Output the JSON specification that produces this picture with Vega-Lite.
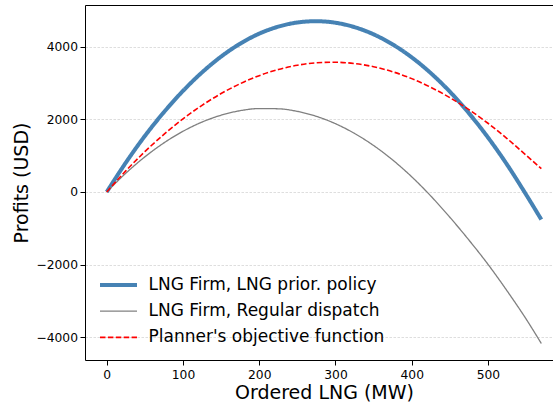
{
  "$schema": "https://vega.github.io/schema/vega-lite/v6.json",
  "width": 468,
  "height": 355,
  "autosize": {"type": "none"},
  "padding": {"left": 85, "top": 5, "right": 0, "bottom": 49},
  "background": "white",
  "config": {
    "view": {"stroke": null},
    "font": "DejaVu Sans",
    "axis": {
      "domainColor": "black",
      "domainWidth": 1,
      "tickColor": "black",
      "tickWidth": 1,
      "labelColor": "black",
      "titleColor": "black",
      "titleFontWeight": "normal",
      "labelFont": "DejaVu Sans",
      "titleFont": "DejaVu Sans"
    },
    "legend": {
      "orient": "none",
      "legendX": 22,
      "legendY": 268.5,
      "labelFontSize": 17,
      "labelFont": "DejaVu Sans",
      "labelColor": "black",
      "symbolType": "M-2,0H2",
      "symbolSize": 342,
      "rowPadding": 7.7,
      "labelOffset": 18.5,
      "padding": 0,
      "labelLimit": 400
    }
  },
  "data": {
    "values": [
      {"s": "LNG Firm, LNG prior. policy", "x": 0, "y": 0},
      {"s": "LNG Firm, LNG prior. policy", "x": 25, "y": 805},
      {"s": "LNG Firm, LNG prior. policy", "x": 50, "y": 1540},
      {"s": "LNG Firm, LNG prior. policy", "x": 75, "y": 2195},
      {"s": "LNG Firm, LNG prior. policy", "x": 100, "y": 2780},
      {"s": "LNG Firm, LNG prior. policy", "x": 125, "y": 3290},
      {"s": "LNG Firm, LNG prior. policy", "x": 150, "y": 3725},
      {"s": "LNG Firm, LNG prior. policy", "x": 175, "y": 4080},
      {"s": "LNG Firm, LNG prior. policy", "x": 200, "y": 4356},
      {"s": "LNG Firm, LNG prior. policy", "x": 225, "y": 4548},
      {"s": "LNG Firm, LNG prior. policy", "x": 250, "y": 4663},
      {"s": "LNG Firm, LNG prior. policy", "x": 275, "y": 4698},
      {"s": "LNG Firm, LNG prior. policy", "x": 300, "y": 4656},
      {"s": "LNG Firm, LNG prior. policy", "x": 325, "y": 4535},
      {"s": "LNG Firm, LNG prior. policy", "x": 350, "y": 4337},
      {"s": "LNG Firm, LNG prior. policy", "x": 375, "y": 4059},
      {"s": "LNG Firm, LNG prior. policy", "x": 400, "y": 3704},
      {"s": "LNG Firm, LNG prior. policy", "x": 425, "y": 3270},
      {"s": "LNG Firm, LNG prior. policy", "x": 450, "y": 2759},
      {"s": "LNG Firm, LNG prior. policy", "x": 475, "y": 2168},
      {"s": "LNG Firm, LNG prior. policy", "x": 500, "y": 1500},
      {"s": "LNG Firm, LNG prior. policy", "x": 525, "y": 754},
      {"s": "LNG Firm, LNG prior. policy", "x": 550, "y": -72},
      {"s": "LNG Firm, LNG prior. policy", "x": 570, "y": -760},
      {"s": "LNG Firm, Regular dispatch", "x": 0, "y": 0},
      {"s": "LNG Firm, Regular dispatch", "x": 25, "y": 515},
      {"s": "LNG Firm, Regular dispatch", "x": 50, "y": 965},
      {"s": "LNG Firm, Regular dispatch", "x": 75, "y": 1350},
      {"s": "LNG Firm, Regular dispatch", "x": 100, "y": 1669},
      {"s": "LNG Firm, Regular dispatch", "x": 125, "y": 1923},
      {"s": "LNG Firm, Regular dispatch", "x": 150, "y": 2112},
      {"s": "LNG Firm, Regular dispatch", "x": 175, "y": 2236},
      {"s": "LNG Firm, Regular dispatch", "x": 200, "y": 2295},
      {"s": "LNG Firm, Regular dispatch", "x": 225, "y": 2288},
      {"s": "LNG Firm, Regular dispatch", "x": 250, "y": 2217},
      {"s": "LNG Firm, Regular dispatch", "x": 275, "y": 2080},
      {"s": "LNG Firm, Regular dispatch", "x": 300, "y": 1878},
      {"s": "LNG Firm, Regular dispatch", "x": 325, "y": 1610},
      {"s": "LNG Firm, Regular dispatch", "x": 350, "y": 1278},
      {"s": "LNG Firm, Regular dispatch", "x": 375, "y": 880},
      {"s": "LNG Firm, Regular dispatch", "x": 400, "y": 417},
      {"s": "LNG Firm, Regular dispatch", "x": 425, "y": -111},
      {"s": "LNG Firm, Regular dispatch", "x": 450, "y": -696},
      {"s": "LNG Firm, Regular dispatch", "x": 475, "y": -1323},
      {"s": "LNG Firm, Regular dispatch", "x": 500, "y": -1990},
      {"s": "LNG Firm, Regular dispatch", "x": 525, "y": -2720},
      {"s": "LNG Firm, Regular dispatch", "x": 550, "y": -3495},
      {"s": "LNG Firm, Regular dispatch", "x": 570, "y": -4170},
      {"s": "Planner's objective function", "x": 0, "y": 0},
      {"s": "Planner's objective function", "x": 25, "y": 579},
      {"s": "Planner's objective function", "x": 50, "y": 1108},
      {"s": "Planner's objective function", "x": 75, "y": 1585},
      {"s": "Planner's objective function", "x": 100, "y": 2010},
      {"s": "Planner's objective function", "x": 125, "y": 2384},
      {"s": "Planner's objective function", "x": 150, "y": 2707},
      {"s": "Planner's objective function", "x": 175, "y": 2979},
      {"s": "Planner's objective function", "x": 200, "y": 3200},
      {"s": "Planner's objective function", "x": 225, "y": 3369},
      {"s": "Planner's objective function", "x": 250, "y": 3487},
      {"s": "Planner's objective function", "x": 275, "y": 3554},
      {"s": "Planner's objective function", "x": 300, "y": 3569},
      {"s": "Planner's objective function", "x": 325, "y": 3533},
      {"s": "Planner's objective function", "x": 350, "y": 3446},
      {"s": "Planner's objective function", "x": 375, "y": 3307},
      {"s": "Planner's objective function", "x": 400, "y": 3118},
      {"s": "Planner's objective function", "x": 425, "y": 2880},
      {"s": "Planner's objective function", "x": 450, "y": 2595},
      {"s": "Planner's objective function", "x": 475, "y": 2265},
      {"s": "Planner's objective function", "x": 500, "y": 1890},
      {"s": "Planner's objective function", "x": 525, "y": 1470},
      {"s": "Planner's objective function", "x": 550, "y": 1010},
      {"s": "Planner's objective function", "x": 570, "y": 640}
    ]
  },
  "layer": [
    {
      "mark": {"type": "line", "interpolate": "monotone"},
      "encoding": {
        "x": {
          "field": "x",
          "type": "quantitative",
          "scale": {"domain": [-28.5, 585.3], "nice": false, "zero": false},
          "axis": {
            "orient": "bottom",
            "values": [0, 100, 200, 300, 400, 500],
            "format": "d",
            "title": "Ordered LNG (MW)",
            "titleFontSize": 19,
            "titleBaseline": "alphabetic",
            "titleX": 239,
            "titleY": 38,
            "labelFontSize": 12.3,
            "tickSize": 5,
            "labelPadding": 3,
            "labelFlush": false,
            "grid": false
          }
        },
        "y": {
          "field": "y",
          "type": "quantitative",
          "scale": {"domain": [-4624, 5144], "nice": false, "zero": false},
          "axis": {
            "orient": "left",
            "values": [-4000, -2000, 0, 2000, 4000],
            "labelExpr": "datum.value < 0 ? '\u2212' + abs(datum.value) : '' + datum.value",
            "title": "Profits (USD)",
            "titleFontSize": 19,
            "titleBaseline": "alphabetic",
            "titleX": -58,
            "labelFontSize": 12.3,
            "tickSize": 5,
            "labelPadding": 2.5,
            "grid": true,
            "gridColor": "#d0d0d0",
            "gridWidth": 0.7,
            "gridDash": [2.5, 1.5]
          }
        },
        "color": {
          "field": "s",
          "type": "nominal",
          "title": null,
          "scale": {
            "domain": ["LNG Firm, LNG prior. policy", "LNG Firm, Regular dispatch", "Planner's objective function"],
            "range": ["#4682b4", "#808080", "#ff0000"]
          }
        },
        "strokeWidth": {
          "field": "s",
          "type": "nominal",
          "title": null,
          "scale": {
            "type": "ordinal",
            "domain": ["LNG Firm, LNG prior. policy", "LNG Firm, Regular dispatch", "Planner's objective function"],
            "range": [4, 1.3, 1.6]
          }
        },
        "strokeDash": {
          "field": "s",
          "type": "nominal",
          "title": null,
          "scale": {
            "domain": ["LNG Firm, LNG prior. policy", "LNG Firm, Regular dispatch", "Planner's objective function"],
            "range": [[1, 0], [1, 0], [5.5, 2.4]]
          }
        }
      }
    },
    {
      "mark": {"type": "line", "opacity": 0},
      "encoding": {
        "x": {
          "field": "x",
          "type": "quantitative",
          "axis": {"orient": "top", "labels": false, "ticks": false, "grid": false, "title": null}
        },
        "y": {
          "field": "y",
          "type": "quantitative",
          "axis": {
            "orient": "left",
            "values": [-4000, -2000, 0, 2000, 4000],
            "labelExpr": "datum.value < 0 ? '\u2212' + abs(datum.value) : '' + datum.value",
            "title": "Profits (USD)",
            "titleFontSize": 19,
            "titleBaseline": "alphabetic",
            "titleX": -58,
            "labelFontSize": 12.3,
            "tickSize": 5,
            "labelPadding": 2.5,
            "grid": true,
            "gridColor": "#d0d0d0",
            "gridWidth": 0.7,
            "gridDash": [2.5, 1.5]
          }
        },
        "detail": {"field": "s"}
      }
    }
  ]
}
